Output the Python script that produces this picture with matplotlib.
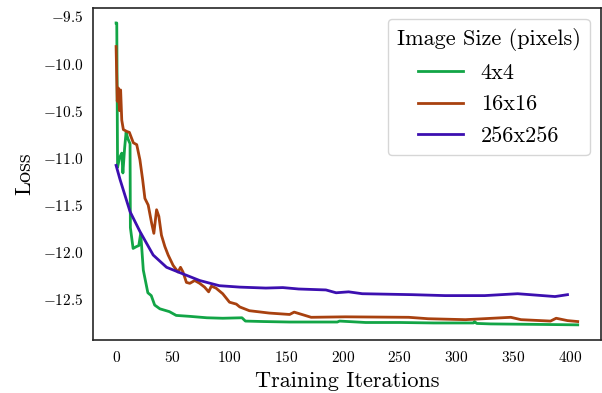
import matplotlib
matplotlib.use("Agg")
import matplotlib.pyplot as plt

# ---- dados ----
it_4 = [0, 0.6, 1.3, 3, 5, 6, 7.5, 8.8, 10.5, 12.3, 12.6, 15, 18, 20, 21.7, 24, 28, 31, 34,
        38.6, 47, 53, 65, 80, 94, 111, 114, 130, 153, 175, 195, 197, 220, 250, 280, 300,
        315, 316, 318, 330, 370, 407]
loss_4 = [-9.57, -9.57, -11.1, -11.0, -10.95, -11.16, -10.9, -10.73, -10.8, -10.85, -11.74,
          -11.96, -11.94, -11.93, -11.8, -12.19, -12.43, -12.46, -12.56, -12.6, -12.63,
          -12.67, -12.68, -12.695, -12.70, -12.695, -12.73, -12.735, -12.74, -12.74, -12.74,
          -12.73, -12.745, -12.745, -12.75, -12.75, -12.75, -12.735, -12.755, -12.76,
          -12.765, -12.77]

it_16 = [0, 1, 2, 3, 4, 5, 6.4, 9.4, 11.7, 15.2, 18.2, 21, 23.4, 25.4, 28.3, 31.3, 33.3,
         35.7, 37.7, 40, 43, 45.9, 50.3, 54.6, 56.8, 59, 62, 65, 69.3, 73.7, 78, 81.6, 84,
         88, 94, 100, 106, 109, 117.5, 135, 153, 157, 172, 202, 258, 275, 308, 348, 357,
         383, 388, 398, 407]
loss_16 = [-9.82, -10.4, -10.26, -10.5, -10.28, -10.6, -10.7, -10.72, -10.73, -10.84,
           -10.86, -11.02, -11.23, -11.43, -11.5, -11.69, -11.8, -11.55, -11.62, -11.82,
           -11.94, -12.03, -12.14, -12.21, -12.16, -12.21, -12.32, -12.33, -12.30, -12.33,
           -12.37, -12.42, -12.36, -12.38, -12.44, -12.53, -12.55, -12.58, -12.62, -12.645,
           -12.66, -12.635, -12.69, -12.685, -12.69, -12.705, -12.715, -12.69, -12.715,
           -12.73, -12.70, -12.725, -12.735]

it_256 = [0, 3.5, 12.3, 21, 32.7, 44.5, 59, 73.7, 91, 109, 132, 147, 161, 185, 194, 205,
          217, 261, 290, 325, 354, 387, 398]
loss_256 = [-11.08, -11.23, -11.57, -11.78, -12.03, -12.16, -12.23, -12.30, -12.355, -12.37,
            -12.38, -12.375, -12.39, -12.40, -12.43, -12.42, -12.44, -12.45, -12.46, -12.46,
            -12.44, -12.47, -12.45]

rotulos = ["4x4", "16x16", "256x256"]
cores = ["#12a546", "#a8410f", "#3c0fb0"]

#Configuracoes
plt.rcParams['font.family'] = 'serif'
plt.rcParams['font.serif'] = ['cmr10', 'DejaVu Serif']
plt.rcParams['mathtext.fontset'] = 'cm'
plt.rcParams['axes.formatter.use_mathtext'] = True

fig = plt.figure(figsize=(6.02, 3.93), dpi=100)
ax = fig.add_axes([0.1545, 0.135, 0.8435, 0.845])

ax.plot(it_4, loss_4, color=cores[0], lw=2.0, label=rotulos[0])
ax.plot(it_16, loss_16, color=cores[1], lw=2.0, label=rotulos[1])
ax.plot(it_256, loss_256, color=cores[2], lw=2.0, label=rotulos[2])

ax.set_xticks([0, 50, 100, 150, 200, 250, 300, 350, 400])
ax.set_yticks([-12.5, -12.0, -11.5, -11.0, -10.5, -10.0, -9.5])
ax.tick_params(length=0, labelsize=11, pad=7)
for s in ax.spines.values():
    s.set_color('#262626')
    s.set_linewidth(1.2)

ax.set_xlabel("Training Iterations", fontsize=16, labelpad=5)
ax.set_ylabel("Loss", fontsize=16, labelpad=6)

#Legenda
leg = ax.legend(title="Image Size (pixels)", fontsize=16, title_fontsize=16,
                loc='upper right', frameon=True, fancybox=True, handlelength=2.0,
                labelspacing=0.55, borderaxespad=0.5)
leg.get_frame().set_edgecolor('#cccccc')

fig.savefig("out.png", dpi=100)
